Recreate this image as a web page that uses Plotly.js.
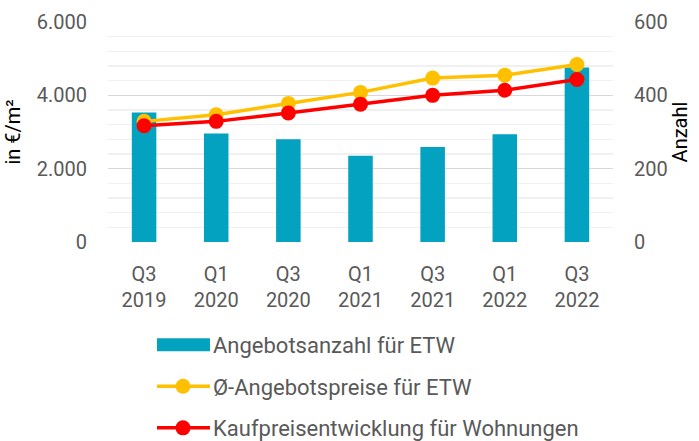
<!DOCTYPE html>
<html>
<head>
<meta charset="utf-8">
<script src="https://cdn.plot.ly/plotly-3.0.1.min.js"></script>
<style>html,body{margin:0;padding:0;background:#fff}#chart{width:699px;height:441px}</style>
</head>
<body>
<div id="chart"></div>
<script>
const categories = ["Q3<br>2019","Q1<br>2020","Q3<br>2020","Q1<br>2021","Q3<br>2021","Q1<br>2022","Q3<br>2022"];
const angebotsanzahl = [353, 296, 280, 235, 259, 294, 476];
const angebotspreise = [3290, 3470, 3780, 4080, 4470, 4550, 4840];
const kaufpreise = [3170, 3290, 3520, 3760, 4000, 4140, 4430];

const gray = '#595959';
const traces = [
  {
    type: 'bar', x: categories, y: angebotsanzahl, yaxis: 'y',
    name: 'Angebotsanzahl für ETW', legendgroup: 'a',
    marker: {color: '#04A2C1'}, width: 0.34
  },
  {
    type: 'scatter', mode: 'lines+markers', x: categories, y: angebotspreise, yaxis: 'y2',
    name: 'Ø-Angebotspreise für ETW', legendgroup: 'b',
    line: {color: '#FFC000', width: 3.5}, marker: {color: '#FFC000', size: 15}
  },
  {
    type: 'scatter', mode: 'lines+markers', x: categories, y: kaufpreise, yaxis: 'y2',
    name: 'Kaufpreisentwicklung für Wohnungen', legendgroup: 'c',
    line: {color: '#FF0000', width: 3.5}, marker: {color: '#FF0000', size: 15}
  }
];

// plot area: x 108..613, y 22..242 ; paper area bottom at 431
const layout = {
  width: 699, height: 441,
  margin: {l: 108, r: 86, t: 22, b: 10, autoexpand: false},
  paper_bgcolor: '#fff', plot_bgcolor: '#fff',
  font: {family: 'Roboto, sans-serif', size: 20, color: gray},
  separators: ',.',
  showlegend: true,
  xaxis: {
    type: 'category', tickfont: {size: 20, color: gray}, showgrid: false,
    showline: false, zeroline: false, ticks: 'outside', ticklen: 14, tickcolor: 'rgba(0,0,0,0)'
  },
  yaxis: {
    domain: [0.4621, 1],
    side: 'right', range: [0, 600], dtick: 200, showgrid: false, zeroline: false,
    tickfont: {size: 20, color: gray}, ticks: 'outside', ticklen: 16, tickcolor: 'rgba(0,0,0,0)',
    title: {text: 'Anzahl', font: {size: 20, color: '#000'}, standoff: 6}
  },
  yaxis2: {
    overlaying: 'y', side: 'left', range: [0, 6000], dtick: 2000, tickformat: ',d',
    showgrid: true, gridcolor: '#d9d9d9', gridwidth: 1.3, zeroline: false,
    ticks: 'outside', ticklen: 16, tickcolor: 'rgba(0,0,0,0)',
    minor: {dtick: 400, showgrid: true, gridcolor: '#f0f0f0', gridwidth: 1.3, ticks: ''},
    tickfont: {size: 20, color: gray},
    title: {text: 'in €/m²', font: {size: 20, color: '#000'}, standoff: 10}
  },
  legend: {
    orientation: 'v',
    x: 0.097, xanchor: 'left', y: 0.262, yanchor: 'top',
    traceorder: 'grouped', tracegroupgap: 10, itemwidth: 46,
    font: {size: 22, color: gray}, bgcolor: 'rgba(0,0,0,0)'
  }
};

Plotly.newPlot('chart', traces, layout, {displayModeBar: false, staticPlot: true}).then(function (gd) {
  // widen legend swatches to match the reference
  gd.querySelectorAll('.legend .traces').forEach(function (t) {
    t.querySelectorAll('.legendlines path').forEach(function (p) { p.setAttribute('d', 'M0,0h53'); });
    t.querySelectorAll('.legendpoints path').forEach(function (p) {
      if (p.classList.contains('scatterpts')) {
        p.setAttribute('transform', 'translate(26,0)');
      } else {
        p.setAttribute('d', 'M0,-6.5h53v13h-53Z');
        p.setAttribute('transform', 'translate(0,0)');
      }
    });
  });
});
</script>
</body>
</html>
